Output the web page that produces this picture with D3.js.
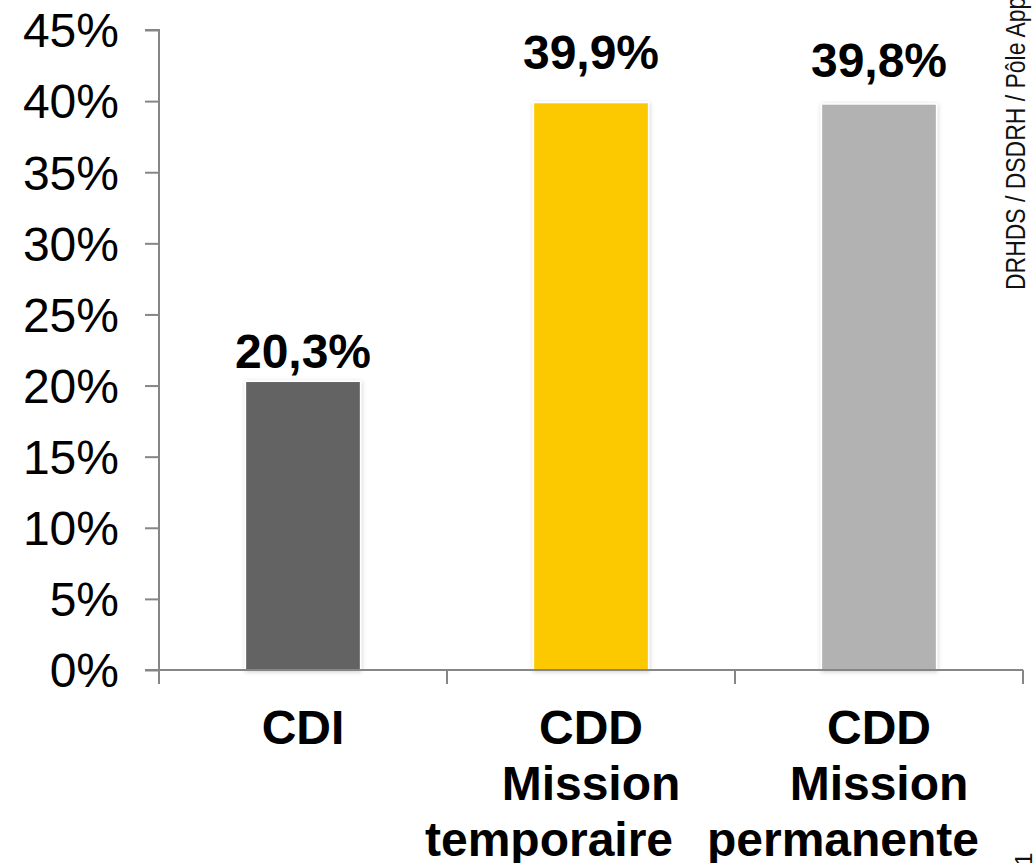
<!DOCTYPE html>
<html>
<head>
<meta charset="utf-8">
<script src="https://cdn.jsdelivr.net/npm/d3@7"></script>
<style>
  html, body { margin: 0; padding: 0; background: #fff; overflow: hidden; }
  svg { display: block; font-family: "Liberation Sans", Arial, sans-serif; }
</style>
</head>
<body>
<svg id="chart" width="1036" height="863"></svg>
<script>
const categories = ["CDI", "CDD Mission temporaire", "CDD Mission permanente"];
const values = [20.3, 39.9, 39.8];
const colors = ["#636363", "#FCC900", "#B2B2B2"];
const yTicks = [0, 5, 10, 15, 20, 25, 30, 35, 40, 45];
const sideNote = "DRHDS / DSDRH / Pôle Appui";
const pageNote = "1";

// layout constants (not data)
const labelGap = [13, 34, 27];        // gap between bar top and value label baseline
const lastLineShift = [0, -42, -36];  // wrapped third label line is shifted left in the original

const svg = d3.select("#chart");
const axisColor = "#868686";

const x = d3.scaleBand().domain(categories).range([159, 1023]).padding(0);
const y = d3.scaleLinear().domain([0, 45]).range([670, 30]);
const barW = x.bandwidth() * 0.4;

const fr = v => d3.format(".1f")(v).replace(".", ",") + "%";

// shadow filter
const defs = svg.append("defs");
const f = defs.append("filter").attr("id", "sh").attr("x", "-20%").attr("y", "-20%").attr("width", "140%").attr("height", "140%");
f.append("feDropShadow").attr("dx", 0.5).attr("dy", 1).attr("stdDeviation", 2)
  .attr("flood-color", "#000").attr("flood-opacity", 0.2);

// bars
svg.append("g").selectAll("rect").data(values).join("rect")
  .attr("x", (d, i) => x(categories[i]) + x.bandwidth() / 2 - barW / 2)
  .attr("y", d => y(d))
  .attr("width", barW)
  .attr("height", d => y(0) - y(d))
  .attr("fill", (d, i) => colors[i])
  .attr("stroke", "#fff")
  .attr("stroke-width", 1.5)
  .attr("filter", "url(#sh)");

// y axis
const yAxis = d3.axisLeft(y).tickValues(yTicks).tickSize(14).tickPadding(26)
  .tickFormat(d => d + "%");
const gy = svg.append("g").attr("transform", "translate(159,0)").call(yAxis);
gy.select(".domain").attr("stroke", axisColor).attr("stroke-width", 2).attr("d", `M-14,${y(45)}H0V${y(0)}`);
gy.selectAll(".tick line").attr("stroke", axisColor).attr("stroke-width", 2);
gy.selectAll(".tick text").attr("fill", "#000").style("font-size", "48px")
  .style("font-family", "'Liberation Sans', Arial, sans-serif").attr("dy", "0.35em");

// x axis
const gx = svg.append("g").attr("transform", `translate(0,${y(0)})`);
gx.append("path").attr("d", "M145,0H1023").attr("stroke", axisColor).attr("stroke-width", 2).attr("fill", "none");
const edges = categories.map(c => x(c)).concat([x(categories[categories.length - 1]) + x.bandwidth()]);
gx.selectAll("line.ct").data(edges).join("line").attr("class", "ct")
  .attr("x1", d => d).attr("x2", d => d).attr("y1", 0).attr("y2", 14)
  .attr("stroke", axisColor).attr("stroke-width", 2);

// category labels
const cl = svg.append("g").selectAll("text").data(categories).join("text")
  .attr("x", d => x(d) + x.bandwidth() / 2)
  .attr("text-anchor", "middle")
  .style("font-size", "48px").style("font-weight", "bold").attr("fill", "#000");
cl.each(function(d, k) {
  const words = d.split(" ");
  d3.select(this).selectAll("tspan").data(words).join("tspan")
    .attr("x", (w, i) => x(d) + x.bandwidth() / 2 + (i === 2 ? lastLineShift[k] : 0))
    .attr("y", (w, i) => 744 + i * 56)
    .text(w => w);
});

// value labels
svg.append("g").selectAll("text").data(values).join("text")
  .attr("x", (d, i) => x(categories[i]) + x.bandwidth() / 2)
  .attr("y", (d, i) => y(d) - labelGap[i])
  .attr("text-anchor", "middle")
  .style("font-size", "48px").style("font-weight", "bold").attr("fill", "#000")
  .text(d => fr(d));

// side note (rotated, narrow)
svg.append("text")
  .attr("transform", "translate(1025,290) rotate(-90) scale(0.82,1)")
  .style("font-size", "28px").attr("fill", "#111")
  .text(sideNote);
svg.append("text")
  .attr("transform", "translate(1032,866) rotate(-90)")
  .style("font-size", "24px").attr("fill", "#111")
  .text(pageNote);
</script>
</body>
</html>
